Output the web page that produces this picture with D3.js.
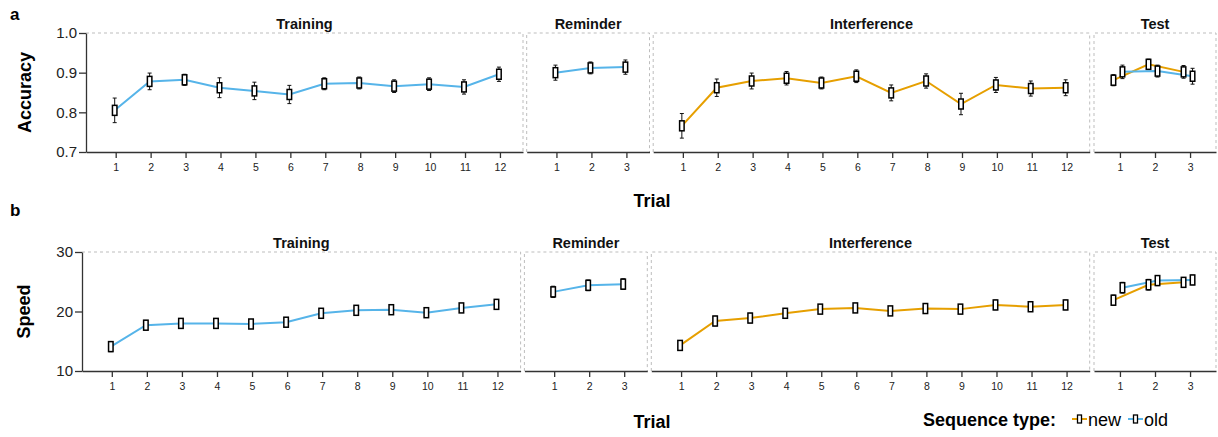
<!DOCTYPE html>
<html lang="en">
  <head>
    <meta charset="UTF-8" />
    <title>Accuracy and speed by trial</title>
    <style>
      body {
        margin: 0;
        background: #ffffff;
        font-family: "Liberation Sans", Arial, sans-serif;
      }
      .axis path,
      .axis line {
        stroke: #333333;
        stroke-width: 1.3px;
      }
      .axis text {
        fill: #222222;
        font-family: "Liberation Sans", Arial, sans-serif;
      }
      .frame {
        fill: none;
        stroke: #bdbdbd;
        stroke-width: 1px;
        stroke-dasharray: 3, 3;
      }
    </style>
    <script src="https://d3js.org/d3.v7.min.js"></script>
  </head>
  <body>
    <svg id="chart"></svg>
    <script>
      // sections and trial labels
      const sections = ["Training", "Reminder", "Interference", "Test"];
      const trials12 = ["1", "2", "3", "4", "5", "6", "7", "8", "9", "10", "11", "12"];
      const trials3 = ["1", "2", "3"];
      const seqTypes = ["new", "old"];

      // accuracy (mean, se)
      const accTraining = [0.805, 0.878, 0.882, 0.862, 0.854, 0.845, 0.872, 0.874, 0.866, 0.871, 0.864, 0.896];
      const accTrainingSe = [0.031, 0.021, 0.014, 0.025, 0.022, 0.023, 0.015, 0.015, 0.016, 0.016, 0.018, 0.018];
      const accReminder = [0.9, 0.912, 0.914];
      const accReminderSe = [0.019, 0.015, 0.018];
      const accInterference = [0.766, 0.862, 0.879, 0.886, 0.874, 0.891, 0.849, 0.879, 0.821, 0.869, 0.86, 0.862];
      const accInterferenceSe = [0.031, 0.022, 0.02, 0.017, 0.015, 0.016, 0.02, 0.018, 0.027, 0.019, 0.019, 0.02];
      const accTestNew = [0.881, 0.921, 0.902];
      const accTestNewSe = [0.014, 0.013, 0.016];
      const accTestOld = [0.902, 0.904, 0.891];
      const accTestOldSe = [0.017, 0.015, 0.02];

      // speed (mean, se)
      const spdTraining = [14.1, 17.7, 18.0, 18.0, 17.9, 18.2, 19.7, 20.2, 20.3, 19.8, 20.6, 21.2];
      const spdTrainingSe = [0.85, 0.8, 0.75, 0.75, 0.75, 0.75, 0.75, 0.8, 0.75, 0.75, 0.7, 0.75];
      const spdReminder = [23.3, 24.4, 24.6];
      const spdReminderSe = [0.95, 0.9, 0.9];
      const spdInterference = [14.3, 18.4, 18.9, 19.7, 20.4, 20.6, 20.1, 20.5, 20.4, 21.1, 20.8, 21.1];
      const spdInterferenceSe = [0.75, 0.8, 0.8, 0.8, 0.75, 0.75, 0.75, 0.75, 0.75, 0.8, 0.75, 0.8];
      const spdTestNew = [21.9, 24.5, 24.9];
      const spdTestNewSe = [0.85, 0.9, 0.8];
      const spdTestOld = [24.0, 25.2, 25.3];
      const spdTestOldSe = [0.9, 0.85, 0.8];

      const yTicksAcc = [0.7, 0.8, 0.9, 1.0];
      const yTicksSpd = [10, 20, 30];

      const width = 1218;
      const height = 437;
      const colors = { new: "#E69F00", old: "#56B4E9" };
      const dodge = { new: -5.5, old: 3.5 };

      const svg = d3.select("#chart").attr("width", width).attr("height", height);

      const series = (vals, se, type) => vals.map((v, i) => ({ x: i + 1, y: v, se: se[i], type }));

      const rows = [
        {
          tag: "a", tagY: 20, label: "Accuracy", labelX: 31, top: 33, bottom: 152,
          yDomain: [0.7, 1.0], yTicks: yTicksAcc, fmt: d3.format(".1f"),
          titleY: 28.5, trialY: 207,
          extents: [[86, 523], [526.7, 649.5], [653.2, 1089.7], [1094, 1216]],
          data: [
            [series(accTraining, accTrainingSe, "old")],
            [series(accReminder, accReminderSe, "old")],
            [series(accInterference, accInterferenceSe, "new")],
            [series(accTestNew, accTestNewSe, "new"), series(accTestOld, accTestOldSe, "old")],
          ],
        },
        {
          tag: "b", tagY: 216, label: "Speed", labelX: 30, top: 252, bottom: 371,
          yDomain: [10, 30], yTicks: yTicksSpd, fmt: d3.format("d"),
          titleY: 247.5, trialY: 428,
          extents: [[82, 520.6], [524.4, 647.3], [651.3, 1089.7], [1094, 1216]],
          data: [
            [series(spdTraining, spdTrainingSe, "old")],
            [series(spdReminder, spdReminderSe, "old")],
            [series(spdInterference, spdInterferenceSe, "new")],
            [series(spdTestNew, spdTestNewSe, "new"), series(spdTestOld, spdTestOldSe, "old")],
          ],
        },
      ];

      rows.forEach((row) => {
        const y = d3.scaleLinear().domain(row.yDomain).range([row.bottom, row.top]);

        row.extents.forEach((ext, p) => {
          const labels = p === 0 || p === 2 ? trials12 : trials3;
          const n = labels.length;
          const domain = p === 3 ? [0.26, n + 0.74] : [0.15, n + 0.66];
          const x = d3.scaleLinear().domain(domain).range(ext);
          const g = svg.append("g");

          // dashed frame (top, left, right)
          const left = p === 0 ? `M${ext[0]},${row.top}` : `M${ext[0]},${row.bottom}L${ext[0]},${row.top}`;
          g.append("path")
            .attr("class", "frame")
            .attr("d", `${left}L${ext[1]},${row.top}L${ext[1]},${row.bottom}`);

          // x axis
          const xAxis = g.append("g")
            .attr("class", "axis")
            .attr("transform", `translate(0,${row.bottom})`)
            .call(d3.axisBottom(x).tickValues(d3.range(1, n + 1)).tickFormat((d) => labels[d - 1]).tickSize(6).tickSizeOuter(0));
          xAxis.selectAll("text").attr("font-size", 10.5).attr("dy", "0.95em");

          if (p === 0) {
            const yAxis = g.append("g")
              .attr("class", "axis")
              .attr("transform", `translate(${ext[0]},0)`)
              .call(d3.axisLeft(y).tickValues(row.yTicks).tickFormat(row.fmt).tickSize(7).tickSizeOuter(0));
            yAxis.selectAll("text").attr("font-size", 15).attr("x", -9);
          }

          // facet title
          svg.append("text")
            .attr("x", (ext[0] + ext[1]) / 2)
            .attr("y", row.titleY)
            .attr("text-anchor", "middle")
            .attr("font-size", 14.5)
            .attr("font-weight", "bold")
            .attr("fill", "#111")
            .text(sections[p]);

          const px = (d) => x(d.x) - 1 + (p === 3 ? dodge[d.type] : 0);
          const line = d3.line().x(px).y((d) => y(d.y));

          row.data[p].forEach((s) => {
            g.append("path")
              .datum(s)
              .attr("d", line)
              .attr("fill", "none")
              .attr("stroke", colors[s[0].type])
              .attr("stroke-width", 2);
          });

          row.data[p].forEach((s) => {
            const pts = g.append("g").selectAll("g").data(s).join("g");
            pts.append("line")
              .attr("x1", px).attr("x2", px)
              .attr("y1", (d) => y(d.y + d.se)).attr("y2", (d) => y(d.y - d.se))
              .attr("stroke", "#111").attr("stroke-width", 1);
            [1, -1].forEach((sgn) => {
              pts.append("line")
                .attr("x1", (d) => px(d) - 2).attr("x2", (d) => px(d) + 2)
                .attr("y1", (d) => y(d.y + sgn * d.se)).attr("y2", (d) => y(d.y + sgn * d.se))
                .attr("stroke", "#111").attr("stroke-width", 1);
            });
            pts.append("rect")
              .attr("x", (d) => px(d) - 2.25).attr("y", (d) => y(d.y) - 5)
              .attr("width", 4.5).attr("height", 10)
              .attr("fill", "#fff").attr("stroke", "#000").attr("stroke-width", 1.5);
          });
        });

        // panel tag and axis titles
        svg.append("text").attr("x", 10).attr("y", row.tagY)
          .attr("font-size", 17).attr("font-weight", "bold").text(row.tag);
        svg.append("text")
          .attr("transform", `translate(${row.labelX},${(row.top + row.bottom) / 2}) rotate(-90)`)
          .attr("text-anchor", "middle")
          .attr("font-size", 18).attr("font-weight", "bold").text(row.label);
        svg.append("text").attr("x", 652).attr("y", row.trialY)
          .attr("text-anchor", "middle")
          .attr("font-size", 18).attr("font-weight", "bold").text("Trial");
      });

      // legend
      const legend = svg.append("g");
      legend.append("text").attr("x", 923).attr("y", 426)
        .attr("font-size", 18).attr("font-weight", "bold").text("Sequence type:");
      const keyX = { new: 1072, old: 1128 };
      seqTypes.forEach((t) => {
        const k = legend.append("g").attr("transform", `translate(${keyX[t]},419)`);
        k.append("line").attr("x1", 0).attr("x2", 15).attr("stroke", colors[t]).attr("stroke-width", 2);
        k.append("rect").attr("x", 5.5).attr("y", -4).attr("width", 4).attr("height", 8)
          .attr("fill", "#fff").attr("stroke", "#000").attr("stroke-width", 1.3);
        k.append("text").attr("x", 16).attr("y", 7).attr("font-size", 18).text(t);
      });
    </script>
  </body>
</html>
